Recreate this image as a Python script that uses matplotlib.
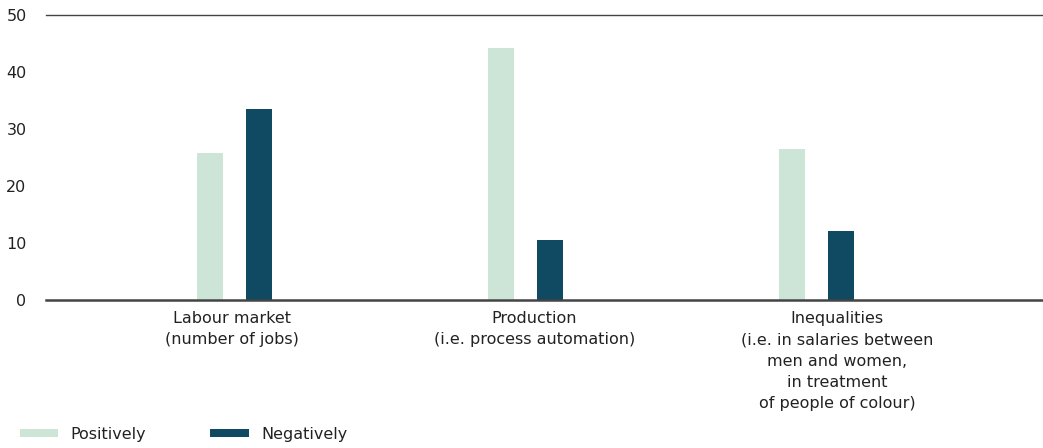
import numpy as np
import matplotlib
matplotlib.use("Agg")
import matplotlib.pyplot as plt
from matplotlib.patches import Patch

categories = ["Labour market\n(number of jobs)",
              "Production\n(i.e. process automation)",
              "Inequalities\n(i.e. in salaries between\nmen and women,\nin treatment\nof people of colour)"]
positively = [25.8, 44.2, 26.5]
negatively = [33.5, 10.5, 12.1]

light = "#cde5d6"
dark = "#0f4a62"
text_col = "#222222"

plt.rcParams['font.family'] = ['DejaVu Sans']

fig = plt.figure(figsize=(10.43, 4.48), dpi=100)
ax = fig.add_axes([0.0441, 0.3304, 0.9559, 0.6361])

x = np.arange(len(categories))
w = 0.089
ax.bar(x - 0.084, positively, width=w, color=light)
ax.bar(x + 0.084, negatively, width=w, color=dark)

ax.set_xlim(-0.649, 2.777)
ax.set_ylim(0, 50)
ax.set_yticks([0, 10, 20, 30, 40, 50])
ax.tick_params(axis='y', length=0, pad=14, labelsize=11.5, labelcolor=text_col)
ax.tick_params(axis='x', length=0, pad=8, labelsize=11.5, labelcolor=text_col)
# labels sit a little right of the bar groups in the original
ax.set_xticks(x + np.array([-0.01, 0.03, 0.07]))
ax.set_xticklabels(categories, linespacing=1.52, va='top')

for side in ['left', 'right']:
    ax.spines[side].set_visible(False)
ax.spines['top'].set_color("#444444")
ax.spines['top'].set_linewidth(1.0)
ax.spines['bottom'].set_color("#444444")
ax.spines['bottom'].set_linewidth(1.8)

handles = [Patch(facecolor=light, label="Positively"),
           Patch(facecolor=dark, label="Negatively")]
fig.legend(handles=handles, loc='lower left', bbox_to_anchor=(0.005, -0.018),
           ncol=2, frameon=False, fontsize=11.5, handlelength=2.4,
           handleheight=0.4, handletextpad=0.8, columnspacing=4.0,
           labelcolor=text_col)

fig.savefig("out.png", dpi=100)
